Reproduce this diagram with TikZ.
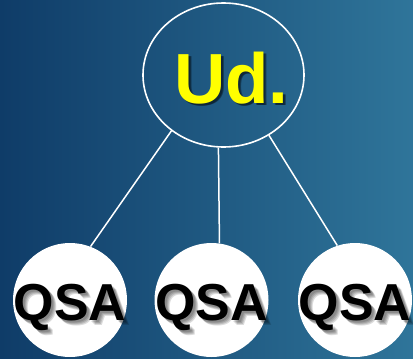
\documentclass[tikz,border=0pt]{standalone}
\usepackage{fontspec}
\setmainfont{Liberation Sans}
\usetikzlibrary{shapes.geometric}
\definecolor{bgl}{RGB}{15,60,104}
\definecolor{bgr}{RGB}{47,117,154}
\definecolor{udyellow}{RGB}{255,255,0}
\begin{document}
\begin{tikzpicture}[x=1pt,y=-1pt,
  bubble/.style={circle,fill=white,minimum size=114pt,inner sep=0pt},
  link/.style={draw=white,line width=1.5pt},
  qsatext/.style={font=\bfseries\fontsize{52}{52}\selectfont,text=black,anchor=base,inner sep=0pt},
  qsashadow/.style={qsatext,text=black,text opacity=0.14},
  udtext/.style={font=\bfseries\fontsize{71}{71}\selectfont,text=udyellow,anchor=base,inner sep=0pt},
  udshadow/.style={udtext,text=black,text opacity=0.35}]
\useasboundingbox (0,0) rectangle (413,359);
\shade[left color=bgl,right color=bgr] (0,0) rectangle (413,359);
% top ellipse
\node[ellipse,draw=white,line width=1.6pt,minimum width=161pt,minimum height=144pt,inner sep=0pt] (u) at (223.5,75) {};
% circles
\node[bubble] (q1) at (70,300) {};
\node[bubble] (q2) at (211.5,300) {};
\node[bubble] (q3) at (355,300) {};
% connectors
\draw[link] (u.227) -- (q1.69);
\draw[link] (u.266.5) -- (q2.82.5);
\draw[link] (u.307.5) -- (q3.108);
% Ud. text with shadow
\node[udshadow] (us1) at (233.5,105) {Ud.};
\node[udshadow] (us2) at (234.5,105.5) {Ud.};
\node[udtext] (ut) at (231.5,103) {Ud.};
% QSA texts with soft shadows
\foreach \cx/\n in {70/1,211.5/2,355/3}{
  \node[qsashadow] (s\n a) at (\cx+2,322.5) {QSA};
  \node[qsashadow] (s\n b) at (\cx+3,323.5) {QSA};
  \node[qsashadow] (s\n c) at (\cx+4,324) {QSA};
  \node[qsashadow] (s\n d) at (\cx+5,325) {QSA};
  \node[qsatext] (t\n) at (\cx,320.5) {QSA};
}
\end{tikzpicture}
\end{document}
